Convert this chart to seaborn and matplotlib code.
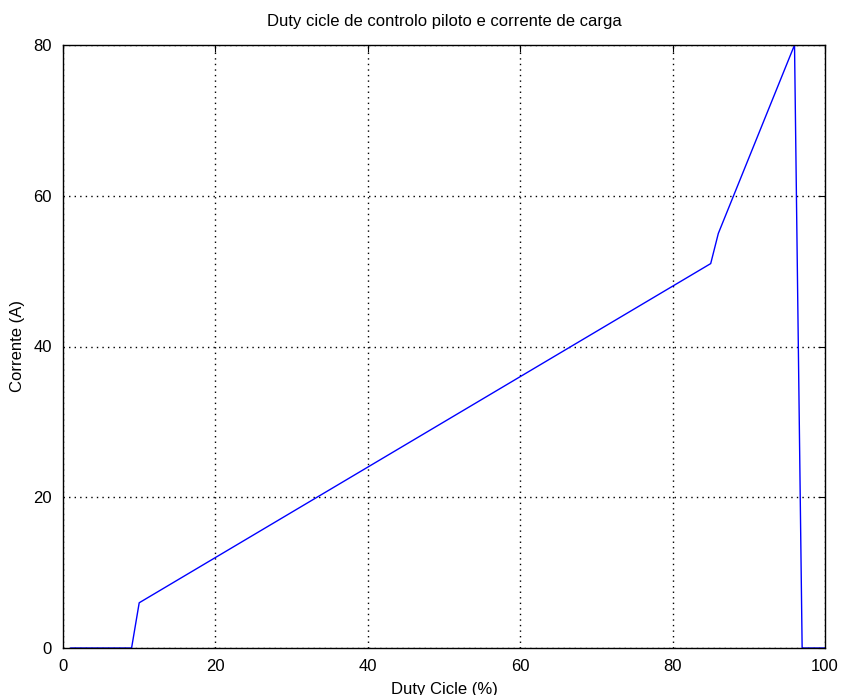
import matplotlib
matplotlib.use("Agg")
import matplotlib.pyplot as plt
import seaborn as sns
import pandas as pd

duty = [1, 9, 10, 85, 86, 96, 97, 100]
corrente = [0, 0, 6, 51, 55, 80, 0, 0]
x_ticks = [0, 20, 40, 60, 80, 100]
y_ticks = [0, 20, 40, 60, 80]

sns.set_theme(style="white")
plt.rcParams['font.family'] = ['Liberation Sans', 'DejaVu Sans']
plt.rcParams['text.color'] = 'black'
plt.rcParams['axes.labelcolor'] = 'black'

df = pd.DataFrame({"duty": duty, "corrente": corrente})

fig = plt.figure(figsize=(8.42, 6.95), dpi=100)
ax = fig.add_axes([63/842, 1-648/695, (825-63)/842, (648-45)/695])
sns.lineplot(data=df, x="duty", y="corrente", ax=ax, color="#0000ff", linewidth=1.0, sort=False)
ax.set_xlim(0, 100)
ax.set_ylim(0, 80)
ax.set_xticks(x_ticks)
ax.set_yticks(y_ticks)
ax.grid(True, linestyle=(0, (1, 3)), color="black", linewidth=1.0)
ax.tick_params(direction="in", length=5, width=0.8, top=True, right=True,
               labelsize=12, colors="black", labelcolor="black", pad=8)
for s in ax.spines.values():
    s.set_color("black")
    s.set_linewidth(1.0)
ax.set_xlabel("Duty Cicle (%)", fontsize=12, labelpad=6, color="black")
ax.set_ylabel("Corrente (A)", fontsize=12, labelpad=6, color="black")
ax.set_title("Duty cicle de controlo piloto e corrente de carga", fontsize=12, pad=14, color="black")
fig.savefig("out.png", dpi=100)
